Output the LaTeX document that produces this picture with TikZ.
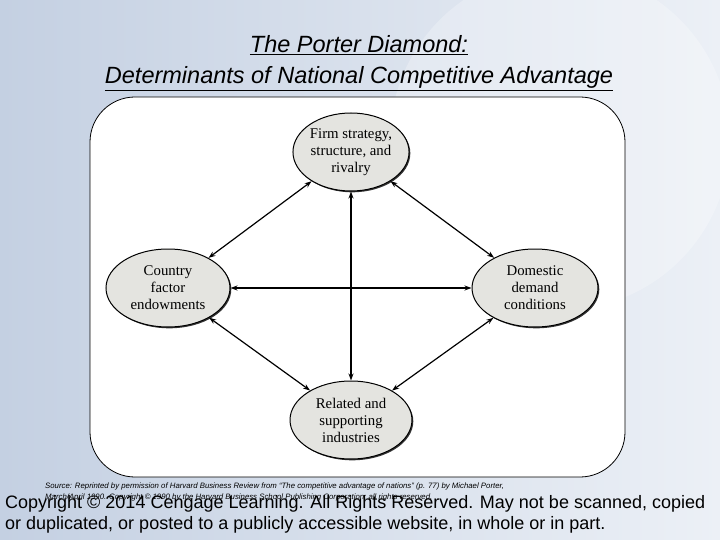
\documentclass[tikz,border=0pt]{standalone}
\usepackage{fontspec}
\setmainfont{Liberation Sans}
\newfontfamily\ovalfont{Liberation Serif}
\usetikzlibrary{arrows.meta,shapes.geometric,shadows}

\definecolor{ovalgray}{RGB}{228,228,224}
\definecolor{globeblue}{RGB}{196,208,226}
\definecolor{globelight}{RGB}{236,240,246}

\begin{document}
\begin{tikzpicture}[x=1pt, y=-1pt,
    determinant/.style={ellipse, draw, line width=1pt, fill=ovalgray,
        minimum width=122pt, minimum height=78pt, inner sep=0pt, align=center,
        font=\ovalfont\fontsize{14.8}{17}\selectfont,
        drop shadow={shadow xshift=1.3pt, shadow yshift=-1.3pt, fill=black!80, opacity=1}},
    link/.style={{Stealth[length=7pt,width=5pt]}-{Stealth[length=7pt,width=5pt]}, line width=1.2pt}]
    \useasboundingbox (0,0) rectangle (720,540);

    % Slide background: a pale blue wash standing in for the globe picture.
    \shade[left color=globeblue, right color=globelight] (0,0) rectangle (720,540);
    \fill[white, opacity=0.25] (560,140) circle (170);

    % Title, two underlined italic lines.
    \node[font=\itshape\fontsize{23.5}{31}\selectfont, align=center] (title) at (359,63)
        {\underline{The Porter Diamond:}\\\underline{Determinants of National Competitive Advantage}};

    % White panel with rounded corners behind the diamond.
    \draw[fill=white, rounded corners=45pt, line width=0.8pt] (90,97) rectangle (625,477);

    % The four determinants.
    \node[determinant, minimum width=116pt] (firm) at (351,152) {Firm strategy,\\structure, and\\rivalry};
    \node[determinant, minimum width=124pt] (endow) at (168,288) {Country\\factor\\endowments};
    \node[determinant, minimum width=126pt] (demand) at (535,288) {Domestic\\demand\\conditions};
    \node[determinant] (related) at (351,420) {Related and\\supporting\\industries};

    % Every pair is linked both ways: the cross, then the four sides.
    \draw[link] (firm) -- (related);
    \draw[link] (endow) -- (demand);
    \foreach \a/\b in {firm/endow, firm/demand, endow/related, demand/related}
        \draw[link] (\a) -- (\b);

    % Source note, then the copyright line over it.
    \node[anchor=north west, inner sep=0pt, align=left,
          font=\itshape\fontsize{7.8}{10.5}\selectfont] (source) at (45,483)
        {Source: Reprinted by permission of Harvard Business Review from ``The competitive advantage of nations'' (p. 77) by Michael Porter,\\
         March/April 1990. Copyright \textcopyright{} 1990 by the Harvard Business School Publishing Corporation; all rights reserved.};
    \node[anchor=north west, inner sep=0pt, align=left,
          font=\fontsize{18}{21.5}\selectfont] (copyright) at (5,495)
        {Copyright \textcopyright{} 2014 Cengage Learning. All Rights Reserved. May not be scanned, copied\\
         or duplicated, or posted to a publicly accessible website, in whole or in part.};
\end{tikzpicture}
\end{document}
